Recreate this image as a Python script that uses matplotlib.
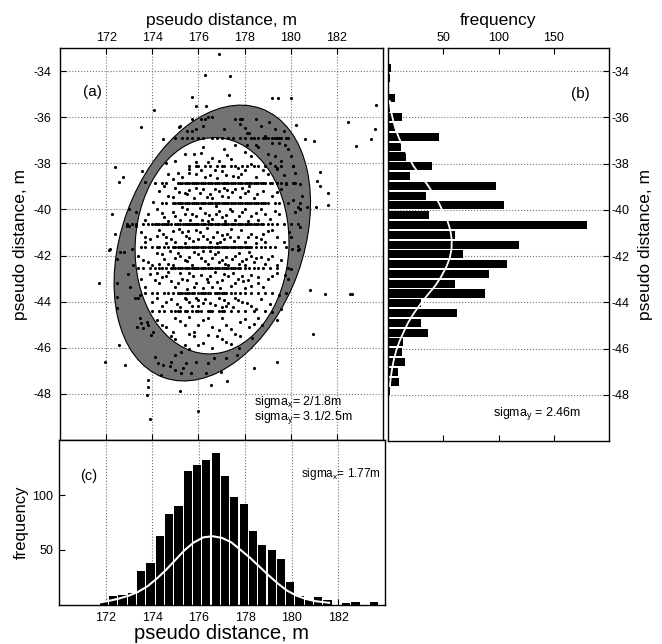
import numpy as np
import matplotlib
matplotlib.use('Agg')
from matplotlib import pyplot as plt
from matplotlib.patches import Ellipse

plt.rcParams['font.family'] = ['Liberation Sans', 'DejaVu Sans']
plt.rcParams['axes.unicode_minus'] = False
plt.rcParams['mathtext.fontset'] = 'custom'
plt.rcParams['mathtext.rm'] = 'Liberation Sans'

#%% data
# (c) histogram of x, bins of 0.4 m starting at 171.93
hx_start, hx_step = 171.93, 0.4
hx_counts = [3, 8, 9, 11, 31, 38, 63, 83, 90, 122, 127, 132, 138, 117, 98,
             92, 67, 55, 50, 42, 21, 8, 5, 7, 5, 0, 2, 3, 0, 3]
# white fitted curve in (c)
cx = [171.8, 172.2, 172.6, 173.0, 173.4, 173.8, 174.2, 174.6, 175.0, 175.4,
      175.8, 176.2, 176.6, 177.0, 177.4, 177.8, 178.2, 178.6, 179.0, 179.4,
      179.8, 180.2, 180.6, 181.0, 181.6]
cy = [2.5, 4, 6, 8.5, 12, 17, 24, 32, 41, 50, 57, 61.5, 62.5, 61, 57, 50, 43,
      35, 27, 19.5, 13, 8.5, 5.5, 3.5, 2]

# (b) histogram of y, bins of 0.4233 m starting at -33.46 (going down)
hy_start, hy_step = -33.46, -0.4233
hy_counts = [1, 3, 2, 0, 6, 2, 13, 6, 46, 12, 16, 40, 20, 98, 34, 105, 37,
             180, 61, 119, 68, 108, 91, 61, 88, 30, 62, 30, 36, 14, 13, 15,
             9, 10, 2, 1, 1, 1, 1]
# white fitted curve in (b)
by = [-35.3, -35.7, -36.1, -36.5, -36.9, -37.3, -37.7, -38.1, -38.5, -38.9,
      -39.3, -39.7, -40.1, -40.5, -40.9, -41.3, -41.7, -42.1, -42.5, -42.9,
      -43.3, -43.7, -44.1, -44.5, -44.9, -45.3, -45.7, -46.1, -46.5, -46.9,
      -47.3, -47.6]
bx = [1.7, 2.6, 4.5, 6.8, 10, 14, 18.5, 23, 29, 35.5, 41, 46, 50, 54, 56.5,
      57.7, 57.5, 55.8, 52.5, 48, 42.5, 35.5, 29, 23, 18, 14, 10.3, 7.4, 5.2,
      3.6, 2.4, 1.8]

# (a) points read along the outer and inner ellipse outlines
outer_edge = [
    (175.83, -36.16), (174.97, -36.73), (174.4, -37.45), (173.89, -38.17),
    (173.53, -38.82), (173.22, -39.47), (172.96, -40.04), (172.75, -40.77),
    (172.53, -41.49), (172.32, -42.42), (172.24, -43.43), (172.39, -44.29),
    (172.89, -45.59), (173.75, -46.74), (175.18, -47.46), (176.33, -47.32),
    (177.48, -46.74), (178.91, -45.3), (179.77, -43.86), (180.6, -41.7),
    (180.85, -41.05), (180.89, -39.9), (180.77, -38.89), (180.56, -37.89),
    (180.13, -36.88), (179.55, -36.09), (178.84, -35.73), (177.98, -35.44),
    (176.9, -35.6),
]
inner_edge = [
    (176.62, -36.73), (175.45, -37.05), (174.82, -37.67), (174.4, -38.32),
    (174.04, -39.04), (173.68, -39.76), (173.39, -40.48), (173.25, -41.2),
    (173.18, -41.8), (173.32, -43.14), (173.75, -44.29), (174.61, -45.45),
    (175.76, -46.02), (176.76, -46.17), (178.05, -45.73), (179.2, -44.44),
    (179.77, -43.14), (179.95, -41.5), (179.9, -40.5), (179.48, -39.47),
    (179.12, -38.61), (178.69, -37.89), (178.12, -37.31), (177.55, -37.02),
]

# (a) scatter: points lying on the dense rows
row_y = [-36.92, -38.12, -38.84, -39.72, -40.64, -41.62, -42.52, -43.64, -44.42]
row_x = [
    [175.0, 175.3, 175.5, 175.7, 176.0, 176.2, 176.6, 176.8, 177.0, 177.3, 177.5,
     177.8, 178.0, 178.3, 178.4, 178.6, 178.8, 178.9, 179.0, 179.2, 179.3, 179.5,
     179.6, 179.8, 179.9],
    [175.6, 175.9, 176.0, 176.3, 176.5, 176.8, 177.0, 177.1, 177.4, 177.6, 177.9,
     178.1, 178.4, 178.6, 178.9, 179.3, 179.6, 180.1],
    [174.1, 174.4, 174.6, 175.1, 175.2, 175.3, 175.4, 175.5, 175.6, 175.7, 175.8,
     175.9, 176.0, 176.1, 176.2, 176.3, 176.4, 176.5, 176.6, 176.7, 176.8, 176.9,
     177.0, 177.1, 177.2, 177.3, 177.4, 177.5, 177.6, 177.7, 177.8, 177.9, 178.0,
     178.1, 178.2, 178.3, 178.4, 178.5, 178.6, 178.7, 178.8, 178.9, 179.1, 179.2,
     179.4, 179.6, 179.8, 180.1, 180.2],
    [174.4, 174.6, 174.9, 175.0, 175.1, 175.2, 175.3, 175.4, 175.5, 175.6, 175.7,
     175.8, 175.9, 176.0, 176.1, 176.2, 176.3, 176.4, 176.5, 176.6, 176.7, 176.8,
     176.9, 177.0, 177.1, 177.2, 177.3, 177.4, 177.5, 177.6, 177.7, 177.8, 177.9,
     178.0, 178.1, 178.2, 178.3, 178.4, 178.5, 178.6, 178.7, 178.8, 178.9, 179.0,
     179.3, 179.5, 179.9, 180.4],
    [172.9, 173.1, 173.3, 173.6, 173.8, 174.0, 174.1, 174.2, 174.3, 174.4, 174.5,
     174.6, 174.7, 174.8, 175.0, 175.05, 175.1, 175.2, 175.35, 175.4, 175.5, 175.6,
     175.65, 175.7, 175.8, 175.9, 175.95, 176.0, 176.1, 176.2, 176.25, 176.3,
     176.4, 176.5, 176.55, 176.6, 176.7, 176.8, 176.85, 176.9, 177.0, 177.1,
     177.15, 177.2, 177.3, 177.4, 177.45, 177.5, 177.6, 177.7, 177.75, 177.8,
     177.9, 178.0, 178.1, 178.2, 178.3, 178.4, 178.5, 178.6, 178.7, 178.8, 179.0,
     179.2, 179.4, 179.7, 180.0, 180.3],
    [173.5, 173.7, 174.0, 174.2, 174.3, 174.5, 174.7, 174.9, 175.0, 175.1, 175.2,
     175.3, 175.4, 175.5, 175.6, 175.7, 175.8, 175.9, 176.0, 176.1, 176.2, 176.3,
     176.4, 176.5, 176.6, 176.7, 176.8, 176.9, 177.0, 177.1, 177.2, 177.3, 177.4,
     177.5, 177.6, 177.7, 177.8, 177.9, 178.0, 178.1, 178.2, 178.3, 178.5, 178.7,
     178.9, 179.1, 179.3, 179.8],
    [173.4, 173.6, 173.9, 174.1, 174.3, 174.4, 174.6, 174.8, 174.9, 175.0, 175.1,
     175.2, 175.3, 175.4, 175.5, 175.6, 175.7, 175.8, 175.9, 176.0, 176.1, 176.2,
     176.3, 176.4, 176.5, 176.6, 176.7, 176.8, 176.9, 177.0, 177.1, 177.2, 177.3,
     177.4, 177.5, 177.6, 177.7, 177.8, 178.0, 178.2, 178.4, 178.6, 178.8, 179.1,
     179.4, 179.9],
    [173.7, 174.0, 174.2, 174.5, 174.7, 174.9, 175.1, 175.2, 175.3, 175.4, 175.5,
     175.6, 175.7, 175.8, 176.0, 176.1, 176.2, 176.3, 176.4, 176.5, 176.7, 176.8,
     176.9, 177.0, 177.1, 177.2, 177.4, 177.6, 177.8, 178.0, 178.3, 178.6, 178.9,
     179.2, 179.8],
    [174.0, 174.3, 174.5, 174.8, 175.0, 175.1, 175.2, 175.4, 175.5, 175.7, 175.9,
     176.0, 176.1, 176.4, 176.5, 176.6, 176.9, 177.0, 177.1, 177.4, 177.7, 178.0,
     178.4, 178.9],
]

# (a) scatter: points between the rows inside the inner ellipse
inner_pts = [
    (175.4, -37.6), (175.8, -37.6), (176.6, -37.75), (176.2, -37.3), (177.1, -37.4),
    (177.6, -37.2), (178.0, -37.5), (178.3, -37.7), (176.9, -37.9), (175.9, -37.95),
    (177.4, -37.8), (178.6, -37.3), (175.0, -37.9), (175.6, -38.4), (176.4, -37.95),
    (177.25, -37.65), (177.7, -38.6), (178.3, -38.05), (178.8, -38.3), (176.1, -37.55),
    (174.7, -38.45),
    (174.6, -38.0), (175.1, -38.4), (175.3, -38.6), (176.1, -38.3), (176.5, -38.5),
    (177.0, -38.35), (177.5, -38.55), (178.0, -38.3), (178.5, -38.6), (179.0, -38.45),
    (179.4, -38.25), (174.9, -38.7), (176.8, -38.65), (177.7, -38.2),
    (175.9, -38.45), (176.3, -38.6), (176.7, -38.3), (177.2, -38.5), (177.85, -38.45),
    (175.6, -38.25),
    (174.3, -39.2), (174.7, -39.4), (175.0, -39.05), (175.4, -39.3), (175.8, -39.5),
    (176.2, -39.1), (176.5, -39.35), (176.9, -39.2), (177.3, -39.45), (177.6, -39.1),
    (178.0, -39.3), (178.4, -39.5), (178.8, -39.2), (179.2, -39.4), (179.6, -39.1),
    (175.6, -39.15), (177.1, -39.05), (178.2, -39.0), (175.5, -39.35), (175.9, -39.05),
    (176.35, -39.45), (176.7, -39.1), (177.0, -39.4), (177.45, -39.25), (177.8, -39.45),
    (178.15, -39.2), (174.9, -39.45), (174.5, -39.0), (175.15, -39.25), (176.05, -39.3),
    (176.6, -39.5), (177.25, -39.15), (177.9, -39.05), (178.55, -39.35), (179.4, -39.25),
    (174.05, -39.7),
    (173.8, -40.2), (174.2, -40.0), (174.5, -40.35), (174.9, -40.1), (175.2, -40.45),
    (175.5, -40.0), (175.9, -40.3), (176.3, -40.15), (176.6, -40.4), (176.9, -40.05),
    (177.2, -40.25), (177.6, -40.45), (177.9, -40.1), (178.3, -40.3), (178.7, -40.0),
    (179.1, -40.4), (179.5, -40.2), (175.7, -40.2), (176.4, -40.5), (177.0, -40.35),
    (178.0, -40.0), (174.7, -40.5), (175.3, -39.9), (175.65, -40.45), (176.05, -39.95),
    (176.45, -40.25), (176.75, -39.85), (177.15, -40.5), (177.45, -40.05), (177.75, -40.3),
    (174.4, -40.15), (175.0, -40.3), (175.4, -40.2), (176.15, -40.45), (176.75, -40.2),
    (177.35, -40.0), (178.15, -40.5), (178.5, -40.15), (179.3, -40.05), (178.6, -40.45),
    (178.9, -40.2), (173.7, -40.45),
    (173.5, -41.0), (173.9, -41.3), (174.3, -40.9), (174.6, -41.2), (175.0, -41.4),
    (175.3, -41.0), (175.6, -41.25), (175.9, -40.9), (176.2, -41.15), (176.5, -41.4),
    (176.8, -41.0), (177.1, -41.3), (177.4, -40.85), (177.7, -41.2), (178.0, -41.4),
    (178.3, -41.05), (178.7, -41.3), (179.0, -40.95), (179.4, -41.2), (179.7, -41.4),
    (175.4, -41.45), (176.0, -41.3), (177.0, -41.1), (178.5, -41.45), (174.9, -40.95),
    (175.15, -40.85), (175.45, -41.15), (175.75, -41.35), (176.05, -41.0), (176.35, -40.8),
    (176.65, -41.2), (176.95, -41.4), (177.25, -41.05), (177.55, -41.35), (177.85, -40.9),
    (174.6, -41.45), (174.2, -41.15), (173.7, -41.2), (174.45, -41.05), (174.8, -41.3),
    (175.55, -40.95), (176.35, -41.3), (176.8, -41.45), (177.35, -41.2), (178.15, -41.2),
    (178.9, -41.4), (179.2, -40.9), (178.5, -41.2), (178.8, -41.05), (173.7, -41.4),
    (173.4, -42.0), (173.8, -42.3), (174.2, -41.9), (174.5, -42.15), (174.9, -42.4),
    (175.2, -42.0), (175.5, -42.25), (175.8, -41.85), (176.1, -42.1), (176.4, -42.35),
    (176.7, -41.95), (177.0, -42.2), (177.3, -42.4), (177.6, -42.0), (177.9, -42.25),
    (178.2, -41.85), (178.5, -42.1), (178.9, -42.35), (179.2, -42.0), (179.6, -42.2),
    (175.0, -42.1), (176.9, -42.3), (178.0, -42.4), (176.2, -41.8), (175.1, -41.9),
    (175.4, -42.2), (175.7, -42.4), (176.0, -41.95), (176.3, -42.25), (176.6, -42.1),
    (176.85, -41.85), (177.15, -42.35), (177.45, -42.15), (177.75, -41.9), (178.05, -42.15),
    (174.7, -42.35), (174.4, -41.95), (173.6, -42.2), (174.3, -42.35), (174.75, -41.8),
    (175.6, -42.05), (176.5, -41.8), (177.2, -42.05), (177.75, -42.35), (178.3, -42.0),
    (179.0, -42.15), (179.4, -42.4), (178.4, -42.3), (178.7, -42.05), (174.0, -42.4),
    (173.5, -43.0), (173.9, -42.8), (174.3, -43.2), (174.6, -42.9), (175.0, -43.35),
    (175.3, -43.0), (175.6, -42.75), (175.9, -43.2), (176.2, -43.4), (176.5, -42.9),
    (176.8, -43.15), (177.1, -42.8), (177.4, -43.3), (177.7, -43.0), (178.0, -43.4),
    (178.3, -42.85), (178.6, -43.2), (179.0, -43.0), (179.4, -42.75), (175.5, -43.45),
    (176.6, -43.35), (177.9, -42.9), (174.8, -43.1), (175.2, -42.75), (175.5, -43.05),
    (175.8, -43.35), (176.1, -42.85), (176.4, -43.15), (176.7, -42.7), (177.0, -43.05),
    (177.3, -42.9), (177.6, -43.2), (177.95, -43.1), (174.7, -42.7), (174.4, -42.95),
    (173.7, -43.35), (174.2, -42.75), (175.1, -43.2), (175.75, -42.9), (176.35, -43.0),
    (176.95, -43.4), (177.5, -42.75), (178.15, -43.05), (178.8, -43.35), (179.2, -42.9),
    (178.3, -43.3), (178.6, -42.95), (174.1, -43.05),
    (174.0, -44.0), (174.4, -44.2), (174.8, -43.9), (175.2, -44.25), (175.6, -44.0),
    (176.0, -44.2), (176.3, -43.9), (176.7, -44.15), (177.1, -43.95), (177.5, -44.25),
    (177.9, -44.0), (178.3, -44.2), (178.7, -43.9), (179.1, -44.1), (175.9, -43.85),
    (177.3, -44.05), (175.4, -43.85), (175.7, -44.2), (176.0, -43.95), (176.5, -44.05),
    (176.9, -43.85), (177.2, -44.2), (177.7, -43.95), (174.6, -44.0), (174.2, -43.85),
    (175.05, -44.1), (175.45, -43.9), (176.2, -44.05), (177.0, -44.25), (177.6, -43.85),
    (178.1, -44.05), (178.5, -44.3),
    (174.2, -44.8), (174.6, -45.1), (175.0, -44.7), (175.4, -45.0), (175.8, -45.3),
    (176.2, -44.8), (176.6, -45.1), (177.0, -44.7), (177.4, -45.2), (177.8, -44.9),
    (178.2, -45.1), (178.6, -44.7), (175.6, -44.65), (176.9, -45.25), (174.9, -45.3),
    (174.4, -45.0), (174.8, -45.5), (175.2, -44.85), (175.6, -45.4), (176.0, -45.0),
    (176.4, -44.7), (176.8, -45.5), (177.2, -45.0), (177.6, -45.4), (178.0, -44.75),
    (178.4, -44.95),
    (175.0, -45.6), (175.4, -45.9), (175.8, -45.5), (176.2, -45.8), (176.6, -46.0),
    (177.0, -45.6), (177.4, -45.85), (177.8, -45.5), (176.4, -45.45), (175.6, -46.05),
    (176.0, -45.9), (177.2, -45.75),
]

# (a) scatter: points in the grey band between the ellipses
band_pts = [
    (177.6, -36.1), (177.8, -36.1), (177.9, -36.1), (178.5, -36.1), (179.05, -36.2),
    (177.1, -36.5), (177.8, -36.3), (178.1, -36.7), (178.2, -36.7), (179.7, -36.6),
    (179.2, -37.1), (179.5, -37.1), (178.1, -37.2), (178.5, -37.2), (179.9, -37.4),
    (179.0, -37.6), (179.3, -37.7), (179.6, -37.9), (179.1, -38.0), (179.4, -38.2),
    (180.1, -38.1), (179.7, -38.5), (180.3, -39.9), (180.4, -40.0), (180.7, -39.9),
    (180.4, -40.75), (180.0, -41.2), (180.3, -41.6), (180.3, -41.75), (180.0, -42.6),
    (179.9, -43.0), (179.6, -44.3), (179.4, -44.8), (176.3, -36.1), (176.6, -36.0),
    (175.9, -36.5), (175.5, -36.6), (176.2, -36.4), (175.7, -36.1), (176.1, -36.1),
    (176.4, -36.0), (175.2, -36.4), (175.7, -36.6), (173.7, -38.8), (173.0, -40.0),
    (172.9, -40.7), (173.3, -40.1), (173.3, -40.7), (173.0, -40.7),
    (178.0, -36.45), (178.7, -36.4), (179.3, -36.5), (179.4, -36.9), (179.75, -37.2),
    (180.0, -37.7), (180.2, -38.4), (180.4, -38.9), (180.5, -39.4), (180.1, -39.6),
    (179.8, -38.9), (178.9, -36.8),
    (172.46, -43.21), (172.49, -43.79), (172.46, -44.29), (172.96, -42.78),
    (173.03, -43.36), (173.25, -43.86), (173.39, -43.86), (173.46, -43.72),
    (173.46, -44.73), (173.53, -44.94), (173.61, -45.16), (173.32, -45.09),
    (173.75, -44.87), (173.82, -45.01), (174.04, -45.3), (173.96, -45.45),
    (174.11, -46.38), (174.25, -46.67), (174.39, -47.17), (174.47, -46.74),
    (174.82, -46.6), (174.75, -46.81), (174.97, -46.96), (175.25, -47.1),
    (175.47, -46.67), (175.69, -47.1), (175.33, -46.89), (175.25, -46.17),
    (174.97, -46.31), (175.9, -46.6), (176.4, -46.67), (176.33, -47.1),
    (176.69, -46.45), (177.19, -46.45), (177.69, -46.31), (176.98, -47.03),
    (172.46, -42.13), (172.39, -41.05), (172.89, -40.69), (173.1, -41.7),
    (173.18, -42.42), (172.77, -41.85), (172.6, -41.85), (179.91, -40.98),
    (180.06, -41.7), (180.34, -41.7), (180.2, -40.12), (180.42, -39.97),
    (179.77, -42.85), (179.48, -43.72), (179.2, -44.44), (178.77, -45.01),
    (178.34, -45.59), (177.76, -46.02),
]

# (a) scatter: outliers outside the outer ellipse
out_pts = [
    (176.9, -33.28), (176.29, -34.19), (177.36, -34.2), (175.73, -35.12),
    (177.33, -35.04), (179.17, -35.15), (179.45, -35.15), (180.0, -35.15),
    (176.33, -35.51), (175.9, -35.51), (174.08, -35.7), (183.69, -35.48),
    (182.47, -36.2), (183.64, -36.52), (173.52, -36.42), (180.23, -36.35),
    (182.85, -37.24), (183.47, -36.95), (180.63, -36.95), (181.03, -37.05),
    (174.47, -36.95), (175.14, -36.42), (172.39, -38.17), (172.72, -38.6),
    (172.57, -38.82), (173.54, -38.32), (181.25, -38.39), (181.13, -38.75),
    (181.28, -38.99), (181.63, -39.28), (181.63, -39.83), (181.1, -39.88),
    (172.25, -40.19), (172.17, -41.7), (171.7, -43.21), (180.85, -43.5),
    (181.49, -43.65), (182.57, -43.65), (182.67, -43.65), (180.95, -45.42),
    (171.96, -46.63), (172.56, -45.88), (172.82, -46.74), (178.41, -46.89),
    (179.41, -46.63), (177.26, -47.43), (176.55, -47.63), (175.18, -47.87),
    (173.82, -47.39), (173.82, -47.68), (173.79, -48.06), (176.0, -48.76),
    (173.89, -49.08), (172.14, -41.75),
]

x_ticks = [172, 174, 176, 178, 180, 182]
y_ticks = [-34, -36, -38, -40, -42, -44, -46, -48]


def fit_ellipse(pts):
    # least-squares conic through the outline points -> centre, width, height, angle
    p = np.array(pts)
    x0, y0 = p[:, 0].mean(), p[:, 1].mean()
    x, y = p[:, 0] - x0, p[:, 1] - y0
    M = np.column_stack([x * x, x * y, y * y, x, y])
    A, B, C, D, E = np.linalg.lstsq(M, np.ones_like(x), rcond=None)[0]
    Q = np.array([[A, B / 2], [B / 2, C]])
    c = np.linalg.solve(2 * Q, -np.array([D, E]))
    k = 1 - c @ Q @ c - D * c[0] - E * c[1]
    ev, vec = np.linalg.eigh(Q)
    semi = np.sqrt(k / ev)
    ang = np.degrees(np.arctan2(vec[1, 0], vec[0, 0]))
    return (c[0] + x0, c[1] + y0), 2 * semi[0], 2 * semi[1], ang


#%% figure
W, H = 662, 644
fig = plt.figure(figsize=(W / 100, H / 100), dpi=100)

def px_axes(l, t, r, b):
    return fig.add_axes([l / W, 1 - b / H, (r - l) / W, (b - t) / H])

ax_a = px_axes(60, 48, 383, 440)
ax_b = px_axes(388, 48, 609, 441)
ax_c = px_axes(59, 440, 385, 605)

grid_kw = dict(ls=':', color='0.45', lw=0.8)
tick_kw = dict(direction='in', length=4, width=0.8, labelsize=9)

# --- (a) scatter with ellipses
ax_a.set_axisbelow(True)
ax_a.grid(True, **grid_kw)
cen, w, h, ang = fit_ellipse(outer_edge)
ax_a.add_patch(Ellipse(cen, w, h, angle=ang, fc='#737373', ec='k', lw=0.8, zorder=1))
cen, w, h, ang = fit_ellipse(inner_edge)
ax_a.add_patch(Ellipse(cen, w, h, angle=ang, fc='white', ec='k', lw=0.8, zorder=1.5))

sx, sy = [], []
for yr, xs in zip(row_y, row_x):
    sx += xs
    sy += [yr] * len(xs)
for pts in (inner_pts, band_pts, out_pts):
    arr = np.array(pts)
    sx += list(arr[:, 0])
    sy += list(arr[:, 1])
ax_a.scatter(sx, sy, s=5, c='k', lw=0, zorder=3)

ax_a.set_xlim(170, 184)
ax_a.set_ylim(-50, -33)
ax_a.set_xticks(x_ticks)
ax_a.set_yticks(y_ticks)
ax_a.tick_params(**tick_kw)
ax_a.tick_params(axis='x', top=True, bottom=True, labeltop=True, labelbottom=False, pad=3)
ax_a.tick_params(axis='y', left=True, right=False, pad=6)
ax_a.xaxis.set_label_position('top')
ax_a.set_xlabel('pseudo distance, m', fontsize=12.5, labelpad=5)
ax_a.set_ylabel('pseudo distance, m', fontsize=12.5, labelpad=4)
ax_a.text(171.0, -34.9, '(a)', fontsize=11, va='center')
ax_a.text(178.4, -48.7,
          'sigma$_\\mathregular{x}$= 2/1.8m\nsigma$_\\mathregular{y}$= 3.1/2.5m',
          fontsize=9, va='center', linespacing=0.95)

# --- (b) histogram of y
hy_centres = hy_start + hy_step * np.arange(len(hy_counts))
ax_b.set_axisbelow(True)
ax_b.grid(True, axis='y', **grid_kw)
ax_b.barh(hy_centres, hy_counts, height=abs(hy_step) * 0.82, color='k', lw=0, zorder=2)
ax_b.plot(bx, by, c='white', lw=1.3, zorder=3)
ax_b.set_xlim(0, 200)
ax_b.set_ylim(-50, -33)
ax_b.set_xticks([50, 100, 150])
ax_b.set_yticks(y_ticks)
ax_b.tick_params(**tick_kw)
ax_b.tick_params(axis='x', top=True, bottom=True, labeltop=True, labelbottom=False, pad=3)
ax_b.tick_params(axis='y', left=False, right=True, labelleft=False, labelright=True, pad=2)
ax_b.xaxis.set_label_position('top')
ax_b.yaxis.set_label_position('right')
ax_b.set_xlabel('frequency', fontsize=12.5, labelpad=5)
ax_b.set_ylabel('pseudo distance, m', fontsize=12.5, labelpad=6)
ax_b.text(174, -35.0, '(b)', fontsize=11, va='center', ha='center')
ax_b.text(95, -48.83, r'sigma$_\mathregular{y}$ = 2.46m', fontsize=9, va='center')

# --- (c) histogram of x
hx_centres = hx_start + hx_step * np.arange(len(hx_counts))
ax_c.set_axisbelow(True)
ax_c.grid(True, axis='x', **grid_kw)
ax_c.bar(hx_centres, hx_counts, width=hx_step * 0.88, color='k', lw=0, zorder=2)
ax_c.plot(cx, cy, c='white', lw=1.5, zorder=3)
ax_c.set_xlim(170, 184)
ax_c.set_ylim(0, 150)
ax_c.set_xticks(x_ticks)
ax_c.set_yticks([50, 100])
ax_c.tick_params(**tick_kw)
ax_c.tick_params(axis='x', pad=5)
ax_c.tick_params(axis='y', pad=4)
ax_c.set_xlabel('pseudo distance, m', fontsize=14.5, labelpad=0)
ax_c.set_ylabel('frequency', fontsize=12, labelpad=3)
ax_c.text(170.9, 117, '(c)', fontsize=10.5, va='center')
ax_c.text(180.4, 119, r'sigma$_\mathregular{x}$= 1.77m', fontsize=8.5, va='center')

for ax in (ax_a, ax_b, ax_c):
    for sp in ax.spines.values():
        sp.set_linewidth(1.0)

fig.savefig('out.png', dpi=100)
